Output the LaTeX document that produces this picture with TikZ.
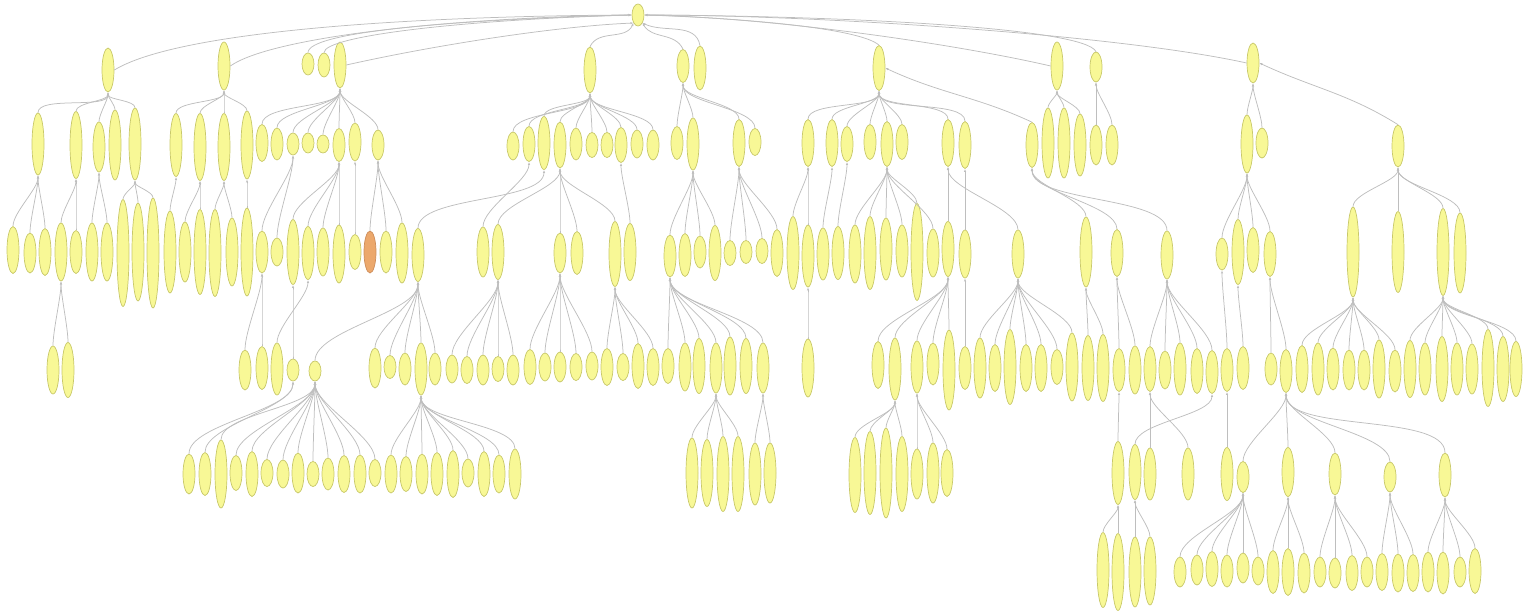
\documentclass[tikz,border=0pt]{standalone}
\usetikzlibrary{arrows.meta,shapes.geometric}
\definecolor{ndfill}{RGB}{248,248,150}
\definecolor{nddraw}{RGB}{200,200,105}
\definecolor{edcol}{RGB}{190,190,190}
\definecolor{orfill}{RGB}{236,168,108}
\definecolor{ordraw}{RGB}{205,140,90}
\begin{document}
\begin{tikzpicture}[x=1pt,y=1pt,
  nd/.style={ellipse,draw=nddraw,fill=ndfill,line width=0.7pt,inner sep=0pt,minimum width=12pt},
  ornd/.style={nd,fill=orfill,draw=ordraw},
  ed/.style={draw=edcol,line width=0.75pt,-{Latex[open,length=3pt,width=2.4pt]}}]
\useasboundingbox (0,0) rectangle (1532,-613);
% ---------- nodes ----------
\foreach \n/\x/\y/\h in {
R/638/15/22,
A/108/70/44, B/224/66/48, S1/308/64/22, S2/324/65/24, C/340/65/46, D/590/70/46,
E/683/66/33, F/700/68/44, G/879/68/45, H/1057/66/48, I/1096/67/30, J/1253/63/40,
A1/38/144/62, A2/76/145/67, A3/99/147/50, A4/115/145/70, A5/135/144/72,
B1/176/145/63, B2/200/147/67, B3/224/147/67, B4/247/145/68,
C1/262/143/37, C2/277/144/32, C3/293/144/22, C4/308/143/20, C5/323/144/18, C6/339/145/33, C7/355/142/38, C8/378/145/30,
D1/513/146/28, D2/529/144/35, D3/544/143/53, D4/560/145/46, D5/576/144/32, D6/592/145/25, D7/607/145/25, D8/621/145/35, D9/637/144/28, D10/653/145/30,
E1/677/143/33, E2/693/144/52, E3/739/143/47, E4/755/142/27,
G1/808/143/47, G2/832/143/47, G3/847/144/35, G4/870/142/35, G5/887/144/45, G6/902/142/35, G7/948/143/47, G8/965/145/47, G9/1032/145/45,
H1/1048/143/70, H2/1064/143/70, H3/1080/145/62, I1/1096/145/40, I2/1112/145/40,
J1/1247/144/58, J2/1262/143/30, K/1398/146/42,
A1a/13/250/47, A1b/30/253/40, A1c/45/252/47, A2a/61/252/58, A2b/76/252/43, A3a/92/252/58, A3b/107/252/58,
A5a/123/253/107, A5b/138/252/98, A5c/153/253/110, B1a/170/252/82, B2a/185/252/60, B2b/200/252/85,
B3a/215/253/87, B3b/232/252/68, B4a/247/252/88,
c3a/262/252/42, c3b/277/252/28, c6a/293/252/65, c6b/308/253/53, c6c/323/252/48, c6d/339/254/58, c7a/355/252/35,
c8b/386/252/42, c8c/402/253/60, d3a/418/255/53, d2a/483/252/50, d4a/498/252/55, d4b/560/253/40, d4c/577/253/43, d4d/615/254/65, d8a/630/252/57,
e2a/670/256/42, e2b/685/255/43, e2c/700/252/32, e2d/715/253/55, e3a/730/253/25, e3b/746/252/23, e3c/762/251/25, e3d/777/253/47,
g1a/793/253/73, g1b/808/256/62, g2a/823/254/52, g3a/838/253/53,
g5a/855/254/58, g5b/870/253/73, g5c/886/249/62, g5d/902/251/52, g5e/917/252/97, g5f/933/253/48,
g7a/948/249/55, g8a/965/254/48, g7b/1018/254/48, g9a/1086/252/70, g9b/1117/253/47, g9c/1167/255/48,
j1a/1222/254/32, j1b/1238/252/65, j1c/1253/250/45, j1d/1270/254/45,
k1/1353/252/90, k2/1398/252/81, k3/1443/252/87, k4/1460/253/80,
a2x/53/370/48, a2y/68/370/55,
r245/245/370/40, r262/262/368/43, r277/277/369/52, r293/293/370/22, r315/315/371/20,
r375/375/368/40, r390/390/367/23, r405/405/369/32, r421/421/369/52, r435/435/369/32,
r452/452/369/28, r467/467/370/27, r483/483/370/30, r498/498/369/25, r513/513/370/30,
r530/530/367/35, r545/545/367/28, r560/560/367/30, r576/576/367/27, r592/592/366/28,
r607/607/367/37, r623/623/367/27, r638/638/366/45, r653/653/367/37,
r668/668/366/35, r685/685/367/48, r699/699/366/55, r716/716/368/50, r730/730/366/58, r746/746/366/55, r763/763/368/50,
r808/808/368/58, r878/878/365/47, r895/895/369/62, r917/917/367/52, r933/933/364/42, r949/949/370/80, r965/965/368/43,
r980/980/368/60, r995/995/368/47, r1010/1010/367/75, r1026/1026/368/47, r1041/1041/368/47, r1057/1057/367/35, r1072/1072/367/68,
r1088/1088/368/65, r1103/1103/368/67, r1119/1119/370/43, r1135/1135/370/48, r1150/1150/369/45,
r1165/1165/370/38, r1180/1180/369/52, r1197/1197/371/45, r1212/1212/372/43,
r1227/1227/370/43, r1243/1243/368/43, r1271/1271/369/32, r1286/1286/371/43,
r1302/1302/369/47, r1318/1318/369/52, r1333/1333/369/42, r1349/1349/370/40, r1364/1364/370/40, r1379/1379/369/58, r1395/1395/371/42,
r1410/1410/369/57, r1425/1425/369/52, r1442/1442/369/65, r1457/1457/369/52, r1472/1472/369/50, r1488/1488/368/77, r1503/1503/369/65, r1516/1516/369/55,
q189/189/474/40, q205/205/474/43, q221/221/474/68, q236/236/473/35, q252/252/474/45, q267/267/473/27, q283/283/474/28,
q298/298/473/40, q313/313/474/25, q328/328/474/32, q344/344/474/37, q360/360/474/38, q375/375/473/27,
q391/391/474/38, q406/406/474/35, q422/422/474/40, q437/437/474/43, q453/453/474/47, q468/468/473/28, q484/484/474/45, q499/499/474/38, q515/515/474/50,
q692/692/473/70, q707/707/473/67, q723/723/474/75, q738/738/474/75, q755/755/474/62, q770/770/473/60,
q855/855/475/75, q870/870/473/83, q886/886/473/90, q902/902/474/75, q917/917/474/50, q933/933/473/60, q947/947/473/47,
q1118/1118/473/63, q1135/1135/472/55, q1150/1150/474/52, q1188/1188/474/52, q1227/1227/474/53,
q1243/1243/477/31, q1288/1288/472/49, q1335/1335/474/42, q1390/1390/477/30, q1445/1445/475/44,
p1103/1103/570/75, p1118/1118/572/77, p1135/1135/572/70, p1150/1150/571/68,
p1180/1180/572/30, p1197/1197/570/30, p1212/1212/569/35, p1227/1227/571/32, p1243/1243/568/30, p1258/1258/571/28,
p1273/1273/572/43, p1288/1288/572/47, p1304/1304/573/40, p1320/1320/572/30, p1335/1335/573/30, p1352/1352/573/35, p1367/1367/572/30,
p1382/1382/572/37, p1398/1398/573/38, p1413/1413/573/37, p1428/1428/572/40, p1443/1443/573/42, p1460/1460/572/30, p1475/1475/571/45}
{\node[nd,minimum height=\h pt] (\n) at (\x,-\y) {};}
\node[ornd,minimum height=42pt] (c8a) at (370,-252) {};
% ---------- tree connectors ----------
\foreach \c/\p in {
A1/A, A2/A, A3/A, A4/A, A5/A, A1a/A1, A1b/A1, A1c/A1, A2a/A2, A2b/A2, A3a/A3, A3b/A3, A5a/A5, A5b/A5, A5c/A5, a2x/A2a, a2y/A2a,
B1/B, B2/B, B3/B, B4/B, B1a/B1, B2a/B2, B2b/B2, B3a/B3, B3b/B3, B4a/B4,
C1/C, C2/C, C3/C, C4/C, C5/C, C6/C, C7/C, C8/C,
c3a/C3, c3b/C3, c6a/C6, c6b/C6, c6c/C6, c6d/C6, c7a/C7, c8a/C8, c8b/C8, c8c/C8,
r245/c3a, r262/c3a, r277/c6b, r293/c6a, q189/r293, q205/r293,
r315/d3a, r375/d3a, r390/d3a, r405/d3a, r421/d3a, r435/d3a,
q221/r315, q236/r315, q252/r315, q267/r315, q283/r315, q298/r315, q313/r315, q328/r315, q344/r315, q360/r315, q375/r315,
q391/r421, q406/r421, q422/r421, q437/r421, q453/r421, q468/r421, q484/r421, q499/r421, q515/r421,
D1/D, D2/D, D3/D, D4/D, D5/D, D6/D, D7/D, D8/D, D9/D, D10/D,
d2a/D2, d3a/D3, d4a/D4, d4b/D4, d4c/D4, d4d/D4, d8a/D8,
r452/d4a, r467/d4a, r483/d4a, r498/d4a, r513/d4a,
r530/d4b, r545/d4b, r560/d4b, r576/d4b, r592/d4b, r607/d4d, r623/d4d, r638/d4d, r653/d4d,
E1/E, E2/E, E3/E, E4/E, e2a/E2, e2b/E2, e2c/E2, e2d/E2, e3a/E3, e3b/E3, e3c/E3, e3d/E3,
r668/e2a, r685/e2a, r699/e2a, r716/e2a, r730/e2a, r746/e2a, r763/e2a,
q692/r716, q707/r716, q723/r716, q738/r716, q755/r763, q770/r763,
G1/G, G2/G, G3/G, G4/G, G5/G, G6/G, G7/G, G8/G,
g1a/G1, g1b/G1, g2a/G2, g3a/G3, g5a/G5, g5b/G5, g5c/G5, g5d/G5, g5e/G5, g5f/G5,
g7a/G7, g7b/G7, g8a/G8, g9a/G9, g9b/G9, g9c/G9,
r808/g1b, r878/g7a, r895/g7a, r917/g7a, r933/g7a, r949/g7a, r965/g8a,
r980/g7b, r995/g7b, r1010/g7b, r1026/g7b, r1041/g7b, r1057/g7b, r1072/g7b,
r1088/g9a, r1103/g9a, r1119/g9b, r1135/g9b, r1150/g9c, r1165/g9c, r1180/g9c, r1197/g9c, r1212/g9c,
q855/r895, q870/r895, q886/r895, q902/r895, q917/r917, q933/r917, q947/r917,
H1/H, H2/H, H3/H, I1/I, I2/I, J1/J, J2/J,
j1a/J1, j1b/J1, j1c/J1, j1d/J1, r1227/j1a, r1243/j1b, r1271/j1d, r1286/j1d,
k1/K, k2/K, k3/K, k4/K,
r1302/k1, r1318/k1, r1333/k1, r1349/k1, r1364/k1, r1379/k1, r1395/k1,
r1410/k3, r1425/k3, r1442/k3, r1457/k3, r1472/k3, r1488/k3, r1503/k3, r1516/k3,
q1118/r1119, q1135/r1212, q1150/r1150, q1188/r1150, q1227/r1227,
q1243/r1286, q1288/r1286, q1335/r1286, q1390/r1286, q1445/r1286,
p1103/q1118, p1118/q1118, p1135/q1135, p1150/q1135,
p1180/q1243, p1197/q1243, p1212/q1243, p1227/q1243, p1243/q1243, p1258/q1243,
p1273/q1288, p1288/q1288, p1304/q1288, p1320/q1335, p1335/q1335, p1352/q1335, p1367/q1335,
p1382/q1390, p1398/q1390, p1413/q1390, p1428/q1445, p1443/q1445, p1460/q1445, p1475/q1445}
{\draw[ed] (\c.north) to[out=90,in=-90,looseness=0.6] (\p.south);}
% ---------- connectors to the root and long side connectors ----------
\draw[ed] (A.east) .. controls (180,-30) and (420,-16) .. (R.west);
\draw[ed] (B.east) .. controls (270,-38) and (440,-18) .. (R.west);
\draw[ed] (S1.north) .. controls (308,-32) and (450,-20) .. (R.west);
\draw[ed] (S2.north) .. controls (324,-36) and (460,-20) .. (R.west);
\draw[ed] (C.east) .. controls (440,-44) and (560,-26) .. (R.south west);
\draw[ed] (D.north) to[out=65,in=-115] (R.south west);
\draw[ed] (E.north) to[out=115,in=-60] (R.south east);
\draw[ed] (F.north) to[out=100,in=-25] (R.south east);
\draw[ed] (G.north) .. controls (860,-28) and (740,-18) .. (R.east);
\draw[ed] (H.west) .. controls (960,-45) and (780,-18) .. (R.east);
\draw[ed] (I.north) .. controls (1085,-28) and (850,-16) .. (R.east);
\draw[ed] (J.west) .. controls (1120,-35) and (820,-15) .. (R.east);
\draw[ed] (G9.north) to[out=155,in=-25] (G.east);
\draw[ed] (K.north) to[out=148,in=-25] (J.east);
\end{tikzpicture}
\end{document}
